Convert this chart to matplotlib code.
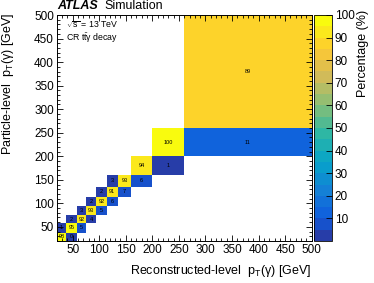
import numpy as np
import matplotlib
matplotlib.use('Agg')
import matplotlib.pyplot as plt
from matplotlib.colors import LinearSegmentedColormap, ListedColormap, Normalize
from matplotlib.ticker import MultipleLocator

plt.rcParams['font.family'] = ['Liberation Sans', 'DejaVu Sans']
plt.rcParams['mathtext.fontset'] = 'custom'
plt.rcParams['mathtext.rm'] = 'Liberation Sans'
plt.rcParams['mathtext.it'] = 'Liberation Sans:italic'
plt.rcParams['mathtext.bf'] = 'Liberation Sans:bold'

#bin edges of photon pT, same for reco (x) and particle level (y)
pt_edges = [20, 38, 58, 75, 94, 114, 135, 160, 200, 260, 500]

#migration matrix in %, rows = particle-level bin, columns = reco-level bin
#None = empty cell
row_0 = [98, 0.3, None, None, None, None, None, None, None, None]
row_1 = [1, 95, 5, None, None, None, None, None, None, None]
row_2 = [None, 2, 92, 4, None, None, None, None, None, None]
row_3 = [None, None, 3, 93, 5, None, None, None, None, None]
row_4 = [None, None, None, 2, 92, 6, None, None, None, None]
row_5 = [None, None, None, None, 2, 91, 7, None, None, None]
row_6 = [None, None, None, None, None, 3, 93, 6, None, None]
row_7 = [None, None, None, None, None, None, None, 94, 1, None]
row_8 = [None, None, None, None, None, None, None, None, 100, 11]
row_9 = [None, None, None, None, None, None, None, None, None, 89]

cbar_ticks = [10, 20, 30, 40, 50, 60, 70, 80, 90, 100]

rows = [row_0, row_1, row_2, row_3, row_4, row_5, row_6, row_7, row_8, row_9]
matrix = np.array([[np.nan if v is None else v for v in r] for r in rows], dtype=float)
matrix = np.ma.masked_invalid(matrix)

#ROOT kBird palette, 20 contours picked the way ROOT does it
stops = [0.0, 0.125, 0.25, 0.375, 0.5, 0.625, 0.75, 0.875, 1.0]
red = [0.2082, 0.0592, 0.0780, 0.0232, 0.1802, 0.5301, 0.8186, 0.9956, 0.9764]
green = [0.1664, 0.3599, 0.5041, 0.6419, 0.7178, 0.7492, 0.7328, 0.7862, 0.9832]
blue = [0.5293, 0.8684, 0.8385, 0.7914, 0.6425, 0.4662, 0.3499, 0.1968, 0.0539]
bird = LinearSegmentedColormap.from_list('bird', list(zip(stops, zip(red, green, blue))), N=255)
n_cont = 20
bird20 = ListedColormap([bird(min(1.0, (i + 0.99) / n_cont)) for i in range(n_cont)])

W, H = 374, 283
fig = plt.figure(figsize=(W / 100, H / 100), dpi=100)
ax = fig.add_axes([56.7 / W, 1 - 241 / H, 255 / W, 226 / H])
cax = fig.add_axes([313.5 / W, 1 - 241 / H, 18.5 / W, 226 / H])

mesh = ax.pcolormesh(pt_edges, pt_edges, matrix, cmap=bird20, norm=Normalize(0, 100))

#numbers in the cells
centers = [(pt_edges[i] + pt_edges[i + 1]) / 2 for i in range(len(pt_edges) - 1)]
for iy in range(len(centers)):
    for ix in range(len(centers)):
        if matrix.mask[iy, ix]:
            continue
        ax.text(centers[ix], centers[iy], '%.0f' % matrix[iy, ix],
                ha='center', va='center', fontsize=4, color='black')

ax.set_xlim(20, 500)
ax.set_ylim(20, 500)
ax.xaxis.set_major_locator(MultipleLocator(50))
ax.yaxis.set_major_locator(MultipleLocator(50))
ax.xaxis.set_minor_locator(MultipleLocator(10))
ax.yaxis.set_minor_locator(MultipleLocator(10))
ax.tick_params(which='both', direction='in', top=True, right=True, width=0.6, labelsize=8.5, pad=2)
ax.tick_params(which='major', length=4.3)
ax.tick_params(which='minor', length=2.2)
for s in ax.spines.values():
    s.set_linewidth(0.7)

cbar = fig.colorbar(mesh, cax=cax, ticks=cbar_ticks)
cbar.outline.set_linewidth(0.6)
cax.tick_params(direction='in', length=4.3, width=0.6, labelsize=8.5, pad=2)

fig.text(311.7 / W, 1 - 271 / H, r'Reconstructed-level  $\mathrm{p_{T}(\gamma)}$ [GeV]',
         ha='right', va='center', fontsize=9)
fig.text(8 / W, 1 - 13 / H, r'Particle-level  $\mathrm{p_{T}(\gamma)}$ [GeV]',
         rotation=90, ha='center', va='top', fontsize=9)
fig.text(363 / W, 1 - 10 / H, 'Percentage (%)', rotation=90, ha='center', va='top', fontsize=9)

fig.text(57 / W, 1 - 6 / H, 'ATLAS', fontsize=9, weight='bold', style='italic', va='center')
fig.text(104 / W, 1 - 6 / H, 'Simulation', fontsize=9, va='center')
fig.text(66 / W, 1 - 25 / H, r'$\sqrt{\mathrm{s}}$ = 13 TeV', fontsize=6.3, va='center')
fig.text(66 / W, 1 - 38 / H, r'CR $\mathrm{t\bar{t}\gamma}$ decay', fontsize=6.3, va='center')

fig.savefig('out.png', dpi=100)
